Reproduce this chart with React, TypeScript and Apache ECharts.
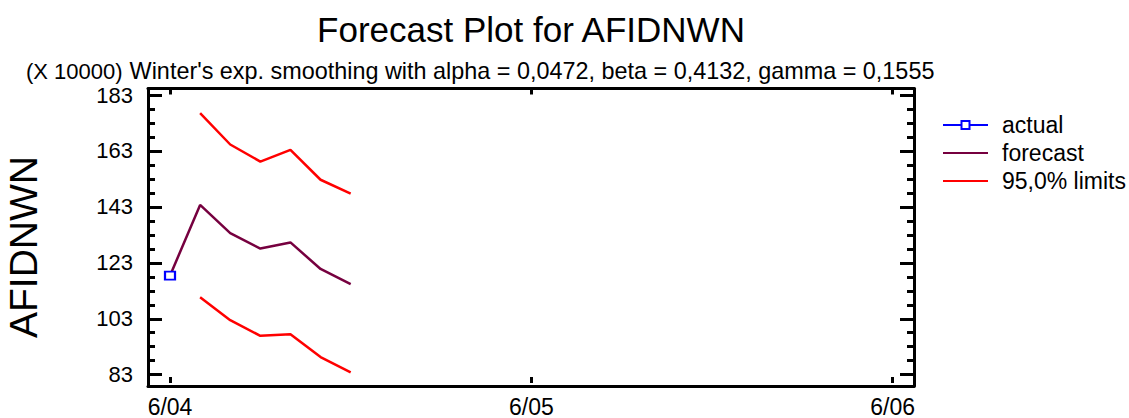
import React, { useEffect, useRef } from "react";
import * as echarts from "echarts";

// months after 6/04
const months = [0, 1, 2, 3, 4, 5, 6];
const actual = [118.4];
const forecast = [118.4, 143.7, 133.6, 128.1, 130.3, 120.8, 115.4];
const upper = [176.5, 165.3, 159.2, 163.4, 152.7, 147.7];
const lower = [110.7, 102.5, 96.9, 97.5, 89.3, 83.85];
const xTickLabels: Record<number, string> = { 0: "6/04", 12: "6/05", 24: "6/06" };
const yTickMin = 83;
const yTickMax = 183;
const xTickMin = 0;
const xTickMax = 24;

const FONT = "Liberation Sans, Arial, sans-serif";

export default function App() {
  const ref = useRef<HTMLDivElement>(null);
  useEffect(() => {
    if (!ref.current) return;
    const chart = echarts.init(ref.current, undefined, { renderer: "svg" });
    const axisLine = { show: true, onZero: false, lineStyle: { color: "#000", width: 3 } };
    const frameX = (pos: "bottom" | "top") => ({
      gridIndex: 0, type: "value" as const, position: pos, min: 0, max: 1,
      axisLine, axisTick: { show: false }, axisLabel: { show: false }, splitLine: { show: false },
    });
    const frameY = (pos: "left" | "right") => ({
      gridIndex: 0, type: "value" as const, position: pos, min: 0, max: 1,
      axisLine, axisTick: { show: false }, axisLabel: { show: false }, splitLine: { show: false },
    });
    const tickY = (pos: "left" | "right", major: boolean) => ({
      gridIndex: 1,
      type: "value" as const,
      position: pos,
      offset: pos === "left" ? 22 : 21.3,
      min: yTickMin,
      max: yTickMax,
      interval: major ? 20 : 5,
      axisLine: { show: false, onZero: false },
      axisTick: { show: true, inside: true, length: major ? 14 : 7, lineStyle: { color: "#000", width: 3 } },
      axisLabel: {
        show: pos === "left" && major,
        margin: 15,
        color: "#000",
        fontSize: 22,
        fontFamily: FONT,
      },
      splitLine: { show: false },
    });
    const tickX = (pos: "bottom" | "top") => ({
      gridIndex: 1,
      type: "value" as const,
      position: pos,
      offset: pos === "bottom" ? 8.3 : 6.5,
      min: xTickMin,
      max: xTickMax,
      interval: 12,
      axisLine: { show: false, onZero: false },
      axisTick: { show: true, inside: true, length: 6, lineStyle: { color: "#000", width: 3 } },
      axisLabel: {
        show: pos === "bottom",
        margin: 12,
        color: "#000",
        fontSize: 23,
        fontFamily: FONT,
        formatter: (v: number) => xTickLabels[Math.round(v)] ?? "",
      },
      splitLine: { show: false },
    });
    chart.setOption({
      animation: false,
      backgroundColor: "#fff",
      textStyle: { fontFamily: FONT },
      grid: [
        { left: 148, right: 215, top: 88.5, bottom: 32, containLabel: false },
        { left: 170, right: 236.3, top: 95, bottom: 40.3, containLabel: false },
      ],
      xAxis: [frameX("bottom"), frameX("top"), tickX("bottom"), tickX("top")],
      yAxis: [frameY("left"), frameY("right"), tickY("left", true), tickY("left", false), tickY("right", true), tickY("right", false)],
      legend: {
        orient: "vertical",
        left: 942,
        top: 111,
        padding: 0,
        itemWidth: 45,
        itemHeight: 10,
        itemGap: 0,
        textStyle: { fontSize: 23, lineHeight: 28, color: "#000", fontFamily: FONT, padding: [0, 0, 0, 9] },
        data: [
          { name: "actual" },
          { name: "forecast", itemStyle: { opacity: 0 } },
          { name: "95,0% limits", itemStyle: { opacity: 0 } },
        ],
      },
      graphic: [
        { type: "text", x: 531, y: 29.5, style: { text: "Forecast Plot for AFIDNWN", fill: "#000", font: `35px ${FONT}`, textAlign: "center", textVerticalAlign: "middle" } },
        { type: "text", x: 532, y: 71, style: { text: "Winter's exp. smoothing with alpha = 0,0472, beta = 0,4132, gamma = 0,1555", fill: "#000", font: `23.4px ${FONT}`, textAlign: "center", textVerticalAlign: "middle" } },
        { type: "text", x: 26, y: 71, style: { text: "(X 10000)", fill: "#000", font: `22px ${FONT}`, textVerticalAlign: "middle" } },
        { type: "text", x: 23, y: 247, rotation: Math.PI / 2, style: { text: "AFIDNWN", fill: "#000", font: `39px ${FONT}`, textAlign: "center", textVerticalAlign: "middle" } },
      ],
      series: [
        {
          name: "95,0% limits", type: "line", xAxisIndex: 2, yAxisIndex: 2, symbol: "none", clip: false,
          lineStyle: { color: "#ff0000", width: 2.5 }, itemStyle: { color: "#ff0000" },
          data: upper.map((v, i) => [months[i + 1], v]),
        },
        {
          name: "95,0% limits", type: "line", xAxisIndex: 2, yAxisIndex: 2, symbol: "none", clip: false,
          lineStyle: { color: "#ff0000", width: 2.5 }, itemStyle: { color: "#ff0000" },
          data: lower.map((v, i) => [months[i + 1], v]),
        },
        {
          name: "forecast", type: "line", xAxisIndex: 2, yAxisIndex: 2, symbol: "none", clip: false,
          lineStyle: { color: "#76003f", width: 2.5 }, itemStyle: { color: "#76003f" },
          data: forecast.map((v, i) => [months[i], v]),
        },
        {
          name: "actual", type: "line", xAxisIndex: 2, yAxisIndex: 2, symbol: "emptyRect", symbolSize: [10, 8], clip: false,
          lineStyle: { color: "#0000ff", width: 2 }, itemStyle: { color: "#0000ff", borderWidth: 2 },
          data: actual.map((v, i) => [months[i], v]),
          z: 5,
        },
      ],
    });
    return () => chart.dispose();
  }, []);
  return <div ref={ref} style={{ width: 1129, height: 418, position: "absolute", left: 0, top: 0 }} />;
}
